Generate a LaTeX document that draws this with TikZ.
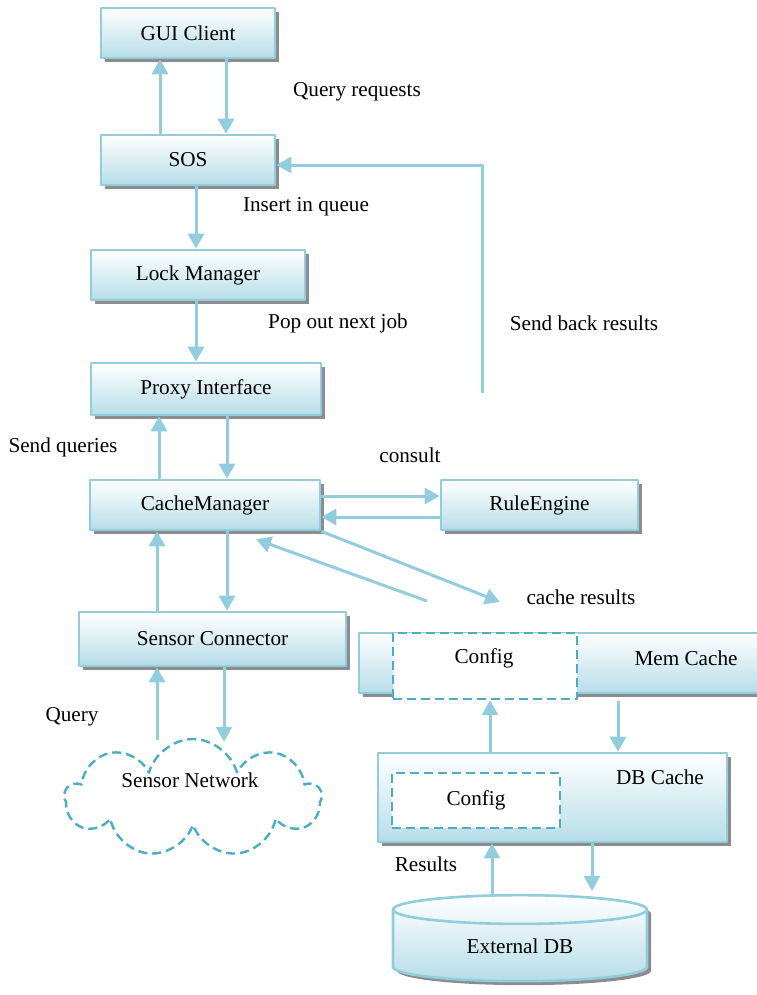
\documentclass[tikz,border=0pt]{standalone}
\usepackage{fontspec}
\setmainfont{Liberation Serif}
\usetikzlibrary{arrows.meta,calc,shapes.geometric,shapes.symbols,shadows}
\definecolor{boxline}{RGB}{146,205,221}
\definecolor{boxfill}{RGB}{183,221,232}
\definecolor{dashblue}{RGB}{75,172,198}
\definecolor{shadowgray}{RGB}{140,140,140}
\begin{document}
\begin{tikzpicture}[x=0.5pt, y=-0.5pt, font=\fontsize{10.6}{12}\selectfont, line join=round, >={Triangle[width=8pt,length=7.5pt]},
	box/.style={draw=boxline, line width=1.3pt, top color=white, bottom color=boxfill, inner sep=0pt,
		drop shadow={shadow xshift=2pt, shadow yshift=-2pt, fill=shadowgray, opacity=1}},
	cfg/.style={draw=dashblue, dash pattern=on 4.5pt off 2.5pt, line width=1.2pt, fill=white, inner sep=0pt},
	arr/.style={->, draw=boxline, line width=1.5pt}]
		\useasboundingbox (0,0) rectangle (756,995);
		% boxes
		\node[box, minimum width=87pt, minimum height=25pt] (gui) at (188,33) {GUI Client};
		\node[box, minimum width=87pt, minimum height=25pt] (sos) at (188,160) {SOS};
		\node[box, minimum width=107pt, minimum height=25pt] (lock) at (198,275) {Lock Manager};
		\node[box, minimum width=115pt, minimum height=26pt] (proxy) at (206,389) {Proxy Interface};
		\node[box, minimum width=115pt, minimum height=25pt] (cache) at (205,505) {CacheManager};
		\node[box, minimum width=98.5pt, minimum height=25pt] (rule) at (539.5,505) {RuleEngine};
		\node[box, minimum width=133.5pt, minimum height=27pt] (sensor) at (212.5,639) {Sensor Connector};
		\node[cloud, cloud puffs=9, aspect=2.2, draw=dashblue, dash pattern=on 4.5pt off 2.5pt, line width=1.2pt, minimum width=128pt, minimum height=59pt] (net) at (193,798) {};
		\node (netlbl) at (190,780) {Sensor Network};
		\node[box, minimum width=205.5pt, minimum height=30pt] (mem) at (564.5,663) {};
		\node[cfg, minimum width=92pt, minimum height=33pt] (memcfg) at (485,666) {};
		\node (memcfglbl) at (484,658) {Config};
		\node (memlbl) at (686,658) {Mem Cache};
		\node[box, minimum width=174.5pt, minimum height=44.5pt] (db) at (552.5,797.5) {};
		\node (dblbl) at (660,777) {DB Cache};
		\node[cfg, minimum width=84pt, minimum height=27.5pt] (dbcfg) at (476,800.5) {Config};
		\node[box, cylinder, shape border rotate=90, shape aspect=0.27, minimum width=127pt, minimum height=43pt] (extdb) at (520,946) {External DB};
		% labels
		\node (l1) at (357,92) {Query requests};
		\node (l2) at (306,207) {Insert in queue};
		\node (l3) at (338,323) {Pop out next job};
		\node (l4) at (584,323) {Send back results};
		\node (l5) at (63,447) {Send queries};
		\node (l6) at (410,455) {consult};
		\node (l7) at (581,597) {cache results};
		\node (l8) at (72,717) {Query};
		\node (l9) at (426,864) {Results};
		% connectors
		\draw[arr] ($(sos.north)+(-28,0)$) coordinate (a1) -- (a1 |- gui.south);
		\draw[arr] ($(gui.south)+(38,0)$) coordinate (a2) -- (a2 |- sos.north);
		\draw[arr] ($(sos.south)+(8,0)$) coordinate (a3) -- (a3 |- lock.north);
		\draw[arr] ($(lock.south)+(-2,0)$) coordinate (a4) -- (a4 |- proxy.north);
		\draw[arr] ($(proxy.south)+(21,0)$) coordinate (a5) -- (a5 |- cache.north);
		\draw[arr] ($(cache.north)+(-46,0)$) coordinate (a6) -- (a6 |- proxy.south);
		\coordinate (sbot) at (482,393);
		\draw[arr] (sbot) |- ($(sos.east)+(0,5)$);
		\draw[arr] ($(cache.east)+(0,-9)$) coordinate (a7) -- (a7 -| rule.west);
		\draw[arr] ($(rule.west)+(0,12)$) coordinate (a8) -- (a8 -| cache.east);
		\coordinate (cres) at (500,602);
		\coordinate (cback) at (427,601);
		\draw[arr] (cache.south east) -- (cres);
		\draw[arr] (cback) -- ($(cache.south)+(51,8)$);
		\draw[arr] ($(cache.south)+(22,0)$) coordinate (a9) -- (a9 |- sensor.north);
		\draw[arr] ($(sensor.north)+(-55.5,0)$) coordinate (a10) -- (a10 |- cache.south);
		\draw[arr] ($(sensor.south)+(11.5,0)$) coordinate (a11) -- ($(a11 |- net.north)+(0,4)$);
		\draw[arr] ($(net.north)+(-36,2)$) coordinate (a12) -- (a12 |- sensor.south);
		\draw[arr] ($(db.north)+(-62.5,0)$) coordinate (a13) -- (a13 |- memcfg.south);
		\draw[arr] ($(mem.south)+(53.5,7)$) coordinate (a14) -- (a14 |- db.north);
		\draw[arr] ($(extdb.north)+(-28,0)$) coordinate (a15) -- (a15 |- db.south);
		\draw[arr] ($(db.south)+(39.5,0)$) coordinate (a16) -- ($(a16 |- extdb.north)+(0,-3)$);
\end{tikzpicture}
\end{document}
